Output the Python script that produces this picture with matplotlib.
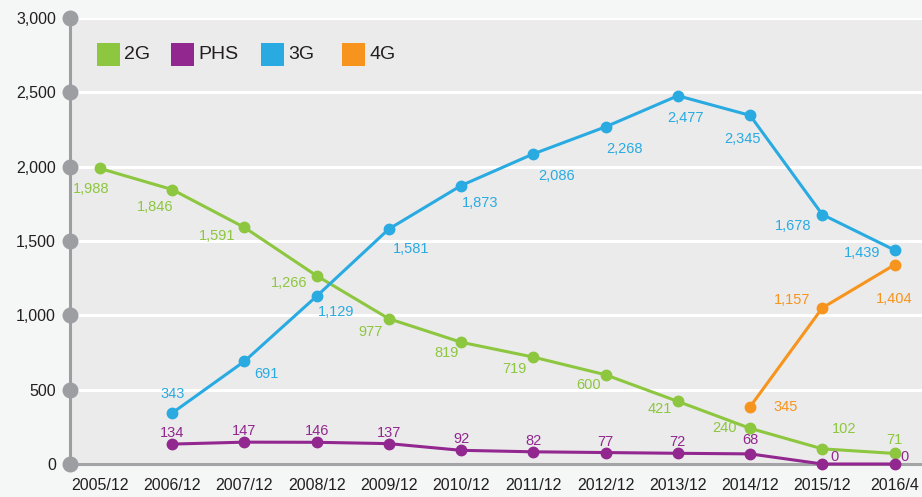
import matplotlib
matplotlib.use("Agg")
import matplotlib.pyplot as plt
from matplotlib.patches import Rectangle

plt.rcParams['font.family'] = ['Liberation Sans', 'DejaVu Sans']

categories = ["2005/12", "2006/12", "2007/12", "2008/12", "2009/12", "2010/12",
              "2011/12", "2012/12", "2013/12", "2014/12", "2015/12", "2016/4"]

g2 = [1988, 1846, 1591, 1266, 977, 819, 719, 600, 421, 240, 102, 71]
phs = [None, 134, 147, 146, 137, 92, 82, 77, 72, 68, 0, 0]
g3 = [None, 343, 691, 1129, 1581, 1873, 2086, 2268, 2477, 2345, 1678, 1439]
# 4G points as drawn in the picture, with their printed labels
g4 = [None] * 9 + [385, 1050, 1340]
g4_labels = [None] * 9 + ["345", "1,157", "1,404"]

yticks = [0, 500, 1000, 1500, 2000, 2500, 3000]

C2G, CPHS, C3G, C4G = "#8dc63f", "#92278f", "#29abe2", "#f7941d"

W, H = 922, 497
fig = plt.figure(figsize=(W / 100, H / 100), dpi=100, facecolor="#f5f6f6")
ax = fig.add_axes([70 / W, (H - 464) / H, 1 - 70 / W, (464 - 18) / H])
ax.set_facecolor("#ebebeb")
ax.set_xlim(-0.415, 11.38)
ax.set_ylim(0, 3000)

for s in ["top", "right"]:
    ax.spines[s].set_visible(False)
ax.spines["left"].set_color("#9d9ea2")
ax.spines["left"].set_linewidth(2.2)
ax.spines["bottom"].set_color("#a3a4a6")
ax.spines["bottom"].set_linewidth(2.2)
ax.spines["left"].set_zorder(5)

for y in yticks[1:]:
    ax.axhline(y, color="white", lw=2.2, zorder=1)

ax.set_yticks(yticks)
ax.set_yticklabels([f"{v:,}" for v in yticks], fontsize=11.5, color="#231f20")
ax.tick_params(axis="y", length=0, pad=10)
ax.set_xticks(range(len(categories)))
ax.set_xticklabels(categories, fontsize=11.5, color="#231f20")
ax.tick_params(axis="x", length=0, pad=10)

# gray markers on the left axis
ax.plot([ax.get_xlim()[0]] * len(yticks), yticks, "o", color="#9d9ea2",
        ms=10.5, clip_on=False, zorder=6)


def series(vals):
    xs = [i for i, v in enumerate(vals) if v is not None]
    ys = [v for v in vals if v is not None]
    return xs, ys


for vals, col in [(g2, C2G), (phs, CPHS), (g3, C3G), (g4, C4G)]:
    xs, ys = series(vals)
    ax.plot(xs, ys, "-o", color=col, lw=2.2, ms=7.5, zorder=4, clip_on=False)

# label offsets in pixels (dx, dy up positive)
off_2g = [(-9, -21), (-17, -17), (-27, -9), (-28, -7), (-18, -13), (-15, -11),
          (-19, -12), (-17, -10), (-18, -8), (-26, 0), (22, 20), (0, 13)]
off_phs = [None, (0, 11), (0, 11), (0, 11), (0, 11), (0, 11), (0, 11), (0, 11),
           (0, 11), (0, 14), (12, 7), (10, 7)]
off_3g = [None, (0, 19), (22, -13), (19, -16), (22, -20), (19, -17), (23, -22),
          (19, -22), (8, -22), (-8, -24), (-29, -11), (-32, -3)]
off_4g = [None] * 9 + [(36, 0), (-30, 8), (0, -34)]


def annotate(vals, offs, col, labels=None):
    for i, v in enumerate(vals):
        if v is None:
            continue
        txt = labels[i] if labels else f"{v:,}"
        dx, dy = offs[i]
        ax.annotate(txt, (i, v), xytext=(dx * 0.72, dy * 0.72),
                    textcoords="offset points", ha="center", va="center",
                    fontsize=10.5, color=col, zorder=7, annotation_clip=False)


annotate(g2, off_2g, C2G)
annotate(phs, off_phs, CPHS)
annotate(g3, off_3g, C3G)
annotate(g4, off_4g, C4G, g4_labels)

# legend
leg = [("2G", C2G, 97), ("PHS", CPHS, 171), ("3G", C3G, 261), ("4G", C4G, 342)]
for name, col, x0 in leg:
    fig.patches.append(Rectangle((x0 / W, (H - 66) / H), 23 / W, 23 / H,
                                 transform=fig.transFigure, facecolor=col,
                                 edgecolor="none", zorder=10))
    fig.text((x0 + 27) / W, (H - 54.5) / H, name, fontsize=14, color="#231f20",
             ha="left", va="center", zorder=11)

fig.savefig("out.png", dpi=100, facecolor=fig.get_facecolor())
